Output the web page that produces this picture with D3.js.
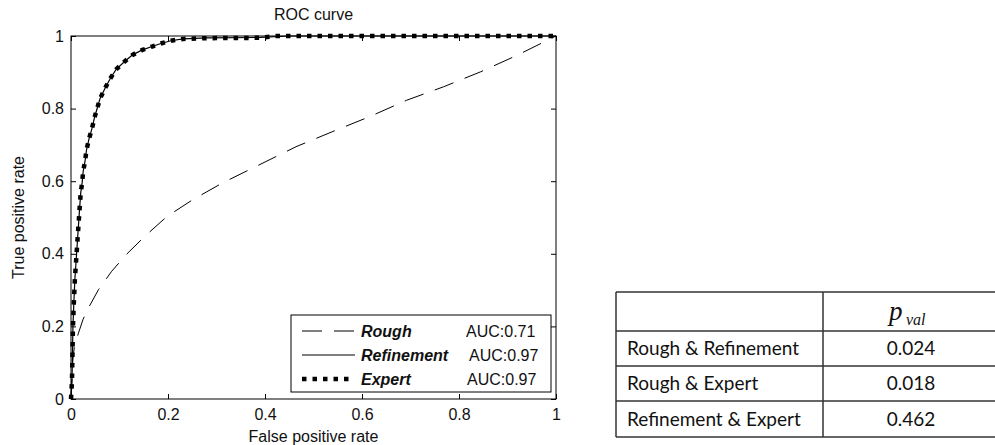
<!DOCTYPE html>
<html>
<head>
<meta charset="utf-8">
<script src="https://cdn.jsdelivr.net/npm/d3@7/dist/d3.min.js"></script>
<style>
  body { margin: 0; background: #fff; }
  svg { display: block; }
</style>
</head>
<body>
<svg width="995" height="445"></svg>
<script>
// ROC curves: [false positive rate, true positive rate]
var rough = [
  [0, 0], [0.002, 0.06], [0.004, 0.11], [0.007, 0.145], [0.015, 0.18],
  [0.025, 0.22], [0.038, 0.256], [0.057, 0.302], [0.084, 0.352],
  [0.114, 0.398], [0.152, 0.448], [0.198, 0.503], [0.251, 0.549],
  [0.312, 0.595], [0.388, 0.645], [0.464, 0.695], [0.540, 0.737],
  [0.616, 0.778], [0.692, 0.823], [0.768, 0.860], [0.844, 0.901],
  [0.920, 0.947], [1, 1]
];
var refinement = [
  [0, 0], [0.002, 0.05], [0.003, 0.12], [0.004, 0.2], [0.006, 0.27],
  [0.008, 0.33], [0.011, 0.39], [0.014, 0.45], [0.017, 0.51],
  [0.020, 0.567], [0.023, 0.596], [0.025, 0.626], [0.029, 0.656],
  [0.032, 0.686], [0.037, 0.716], [0.043, 0.744], [0.048, 0.773],
  [0.054, 0.801], [0.060, 0.828], [0.071, 0.858], [0.081, 0.883],
  [0.093, 0.908], [0.110, 0.929], [0.127, 0.948], [0.146, 0.961],
  [0.167, 0.971], [0.187, 0.980], [0.206, 0.987], [0.231, 0.992],
  [0.28, 0.995], [0.39, 0.996], [0.45, 1], [1, 1]
];
var expert = [
  [0, 0], [0.002, 0.05], [0.003, 0.12], [0.004, 0.2], [0.006, 0.27],
  [0.008, 0.33], [0.011, 0.39], [0.014, 0.45], [0.017, 0.51],
  [0.020, 0.567], [0.023, 0.596], [0.025, 0.626], [0.029, 0.656],
  [0.032, 0.686], [0.037, 0.716], [0.043, 0.744], [0.048, 0.773],
  [0.054, 0.801], [0.060, 0.828], [0.071, 0.858], [0.081, 0.883],
  [0.093, 0.908], [0.110, 0.929], [0.127, 0.948], [0.146, 0.961],
  [0.167, 0.971], [0.187, 0.980], [0.206, 0.987], [0.231, 0.992],
  [0.28, 0.994], [0.39, 0.995], [0.42, 1], [1, 1]
];

var legendNames = ["Rough", "Refinement", "Expert"];
var legendAuc = ["AUC:0.71", "AUC:0.97", "AUC:0.97"];

var tickValues = [0, 0.2, 0.4, 0.6, 0.8, 1];
var tickLabels = ["0", "0.2", "0.4", "0.6", "0.8", "1"];

var pairNames = ["Rough & Refinement", "Rough & Expert", "Refinement & Expert"];
var pValues = ["0.024", "0.018", "0.462"];

var svg = d3.select("svg");
var plotFont = "'Liberation Sans', Arial, sans-serif";

var x = d3.scaleLinear().domain([0, 1]).range([71, 556]);
var y = d3.scaleLinear().domain([0, 1]).range([399, 36]);

// axes box, ticks pointing inwards on all four sides
svg.append("rect")
  .attr("x", x(0)).attr("y", y(1))
  .attr("width", x(1) - x(0)).attr("height", y(0) - y(1))
  .style("fill", "none").style("stroke", "#000").style("stroke-width", 1);

function styleAxis(g) {
  g.select(".domain").remove();
  g.selectAll(".tick line").style("stroke", "#000");
  g.selectAll("text").style("font-family", plotFont).style("font-size", "16px").style("fill", "#111");
}

var fmt = function(d, i) { return tickLabels[i]; };

svg.append("g").attr("transform", "translate(0," + y(0) + ")")
  .call(d3.axisBottom(x).tickValues(tickValues).tickFormat(fmt).tickSize(-5).tickPadding(10))
  .call(styleAxis);
svg.append("g").attr("transform", "translate(0," + y(1) + ")")
  .call(d3.axisTop(x).tickValues(tickValues).tickFormat("").tickSize(-5))
  .call(styleAxis);
svg.append("g").attr("transform", "translate(" + x(0) + ",0)")
  .call(d3.axisLeft(y).tickValues(tickValues).tickFormat(fmt).tickSize(-5).tickPadding(7))
  .call(styleAxis);
svg.append("g").attr("transform", "translate(" + x(1) + ",0)")
  .call(d3.axisRight(y).tickValues(tickValues).tickFormat("").tickSize(-5))
  .call(styleAxis);

// titles
svg.append("text")
  .attr("x", (x(0) + x(1)) / 2).attr("y", 20)
  .attr("text-anchor", "middle")
  .style("font-family", plotFont).style("font-size", "16px").style("fill", "#111")
  .text("ROC curve");
svg.append("text")
  .attr("x", (x(0) + x(1)) / 2).attr("y", 442)
  .attr("text-anchor", "middle")
  .style("font-family", plotFont).style("font-size", "16px").style("fill", "#111")
  .text("False positive rate");
svg.append("text")
  .attr("transform", "translate(24," + ((y(0) + y(1)) / 2) + ") rotate(-90)")
  .attr("text-anchor", "middle")
  .style("font-family", plotFont).style("font-size", "16px").style("fill", "#111")
  .text("True positive rate");

// curves
var line = d3.line().x(function(d) { return x(d[0]); }).y(function(d) { return y(d[1]); });

var styles = [
  { data: rough, width: 1, dash: "20,12", len: 53 },
  { data: refinement, width: 1.2, dash: null, len: 53 },
  { data: expert, width: 4.5, dash: "4.5,6", len: 47 }
];

svg.append("g").selectAll("path").data(styles).enter()
  .append("path")
  .attr("d", function(d) { return line(d.data); })
  .style("fill", "none")
  .style("stroke", "#000")
  .style("stroke-width", function(d) { return d.width; })
  .style("stroke-dasharray", function(d) { return d.dash; });

// legend
var legend = svg.append("g");
legend.append("rect")
  .attr("x", 291).attr("y", 315).attr("width", 260).attr("height", 77)
  .style("fill", "#fff").style("stroke", "#000").style("stroke-width", 1);

var rows = legend.selectAll("g.row").data(styles).enter()
  .append("g").attr("class", "row")
  .attr("transform", function(d, i) { return "translate(0," + (331 + i * 24) + ")"; });

rows.append("line")
  .attr("x1", 302).attr("x2", function(d) { return 302 + d.len; })
  .attr("y1", 0).attr("y2", 0)
  .style("stroke", "#000")
  .style("stroke-width", function(d) { return d.width; })
  .style("stroke-dasharray", function(d) { return d.dash; });

rows.append("text")
  .attr("x", 361).attr("y", 6)
  .style("font-family", plotFont).style("font-size", "16px")
  .style("font-weight", "bold").style("font-style", "italic").style("fill", "#111")
  .text(function(d, i) { return legendNames[i]; });

rows.append("text")
  .attr("x", function(d, i) { return [466, 469, 467][i]; }).attr("y", 6)
  .style("font-family", plotFont).style("font-size", "16px").style("fill", "#111")
  .text(function(d, i) { return legendAuc[i]; });

// p-value table
var tableFont = "Lato, 'Open Sans', sans-serif";
var tLeft = 616, tMid = 823, tRight = 1000;
var rowLines = [292, 331, 366, 401, 437];

var table = svg.append("g");
table.selectAll("line.h").data(rowLines).enter()
  .append("line")
  .attr("x1", tLeft).attr("x2", tRight)
  .attr("y1", function(d) { return d; }).attr("y2", function(d) { return d; })
  .style("stroke", "#333").style("stroke-width", 1.5);
[tLeft, tMid].forEach(function(xv) {
  table.append("line")
    .attr("x1", xv).attr("x2", xv)
    .attr("y1", rowLines[0]).attr("y2", rowLines[rowLines.length - 1])
    .style("stroke", "#333").style("stroke-width", 1.5);
});

table.append("text")
  .attr("x", 889).attr("y", 320)
  .style("font-family", "'Liberation Serif', serif").style("font-style", "italic")
  .style("font-size", "27px").style("fill", "#111")
  .text("p");
table.append("text")
  .attr("x", 906).attr("y", 325)
  .style("font-family", "'Liberation Serif', serif").style("font-style", "italic")
  .style("font-size", "16px").style("fill", "#111")
  .text("val");

table.selectAll("text.pair").data(pairNames).enter()
  .append("text").attr("class", "pair")
  .attr("x", 627)
  .attr("y", function(d, i) { return rowLines[i + 2] - 11; })
  .style("font-family", tableFont).style("font-size", "19px").style("fill", "#111")
  .text(function(d) { return d; });

table.selectAll("text.pval").data(pValues).enter()
  .append("text").attr("class", "pval")
  .attr("x", 911)
  .attr("y", function(d, i) { return rowLines[i + 2] - 11; })
  .attr("text-anchor", "middle")
  .style("font-family", tableFont).style("font-size", "19px").style("fill", "#111")
  .text(function(d) { return d; });
</script>
</body>
</html>
